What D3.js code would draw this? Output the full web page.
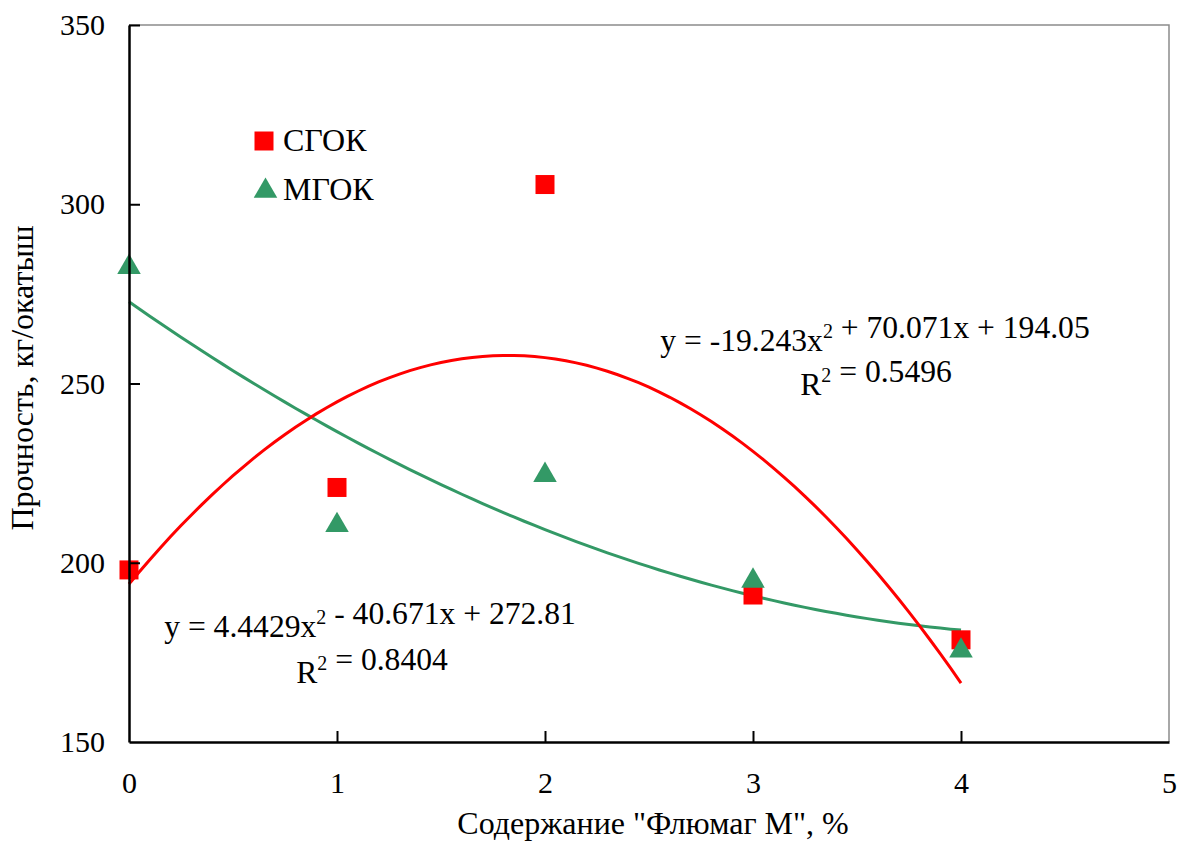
<!DOCTYPE html>
<html>
<head>
<meta charset="utf-8">
<script src="https://cdn.jsdelivr.net/npm/d3@7"></script>
</head>
<body style="margin:0">
<script>
// Data
var xValues = [0, 1, 2, 3, 4];
var sgok = [198, 221, 305.5, 191, 178.5];
var mgok = [283, 211, 225, 195.5, 176];
var xTicks = [0, 1, 2, 3, 4, 5];
var yTicks = [150, 200, 250, 300, 350];
// trendline coefficients as printed on the chart (a, b, c for a*x^2 + b*x + c)
var sgokFit = [-19.243, 70.071, 194.05];
var mgokFit = [4.4429, -40.671, 272.81];

var fontName = "Liberation Serif";
var svgWidth = 1179;
var svgHeight = 843;
var margin = {top: 25, right: 10, bottom: 101, left: 129};
var width = 1169 - margin.left;
var height = 742 - margin.top;

var svg = d3.select("body")
  .append("svg")
  .attr("width", svgWidth)
  .attr("height", svgHeight)
  .style("font-family", `"${fontName}"`);

var chart = svg.append("g")
  .attr("transform", `translate(${margin.left}, ${margin.top})`);

var x = d3.scaleLinear().domain([0, 5]).range([0, width]);
var y = d3.scaleLinear().domain([150, 350]).range([height, 0]);

// gray frame on top and right
chart.append("path")
  .attr("d", `M0,0H${width}V${height}`)
  .attr("fill", "none")
  .attr("stroke", "#8c8c8c")
  .attr("stroke-width", 1.5);

// trendlines
var fitLine = d3.line()
  .x(d => x(d[0]))
  .y(d => y(d[1]));

function samples(c) {
  var pts = [];
  for (var i = 0; i <= 80; i++) {
    var t = i / 20;
    pts.push([t, c[0] * t * t + c[1] * t + c[2]]);
  }
  return pts;
}

chart.append("path")
  .attr("d", fitLine(samples(mgokFit)))
  .attr("fill", "none")
  .attr("stroke", "#339966")
  .attr("stroke-width", 3);

chart.append("path")
  .attr("d", fitLine(samples(sgokFit)))
  .attr("fill", "none")
  .attr("stroke", "#ff0000")
  .attr("stroke-width", 3);

// markers
var square = d3.symbol().type(d3.symbolSquare).size(361);
var triangle = d3.symbol().type(d3.symbolTriangle).size(240);

chart.selectAll(".sq")
  .data(xValues)
  .enter()
  .append("path")
  .attr("class", "sq")
  .attr("d", square)
  .attr("transform", (d, i) => `translate(${x(d)}, ${y(sgok[i])})`)
  .attr("fill", "#ff0000");

chart.selectAll(".tri")
  .data(xValues)
  .enter()
  .append("path")
  .attr("class", "tri")
  .attr("d", triangle)
  .attr("transform", (d, i) => `translate(${x(d)}, ${y(mgok[i]) + 2})`)
  .attr("fill", "#339966");

// axes with inward ticks
var bottomAxis = d3.axisBottom(x).tickValues(xTicks).tickFormat(d3.format("d"))
  .tickSizeInner(-11).tickSizeOuter(0).tickPadding(30);
var leftAxis = d3.axisLeft(y).tickValues(yTicks).tickFormat(d3.format("d"))
  .tickSizeInner(-11).tickSizeOuter(0).tickPadding(24);

var gx = chart.append("g")
  .attr("transform", `translate(0, ${height})`)
  .call(bottomAxis);
var gy = chart.append("g").call(leftAxis);

[gx, gy].forEach(function(g) {
  g.attr("font-family", fontName).attr("font-size", 30);
  g.select(".domain").attr("stroke", "#000").attr("stroke-width", 2.5);
  g.selectAll(".tick line").attr("stroke", "#000").attr("stroke-width", 2);
});
gx.selectAll(".tick").filter(d => d === 0 || d === 5).select("line").remove();
gy.selectAll(".tick").filter(d => d === 150).select("line").remove();

// every text gets the font inline
function label(sel) {
  return sel.attr("font-family", fontName)
    .style("font-family", `"${fontName}"`)
    .style("font-size", "32px");
}

// legend
var legend = chart.append("g");
legend.append("path")
  .attr("d", square)
  .attr("transform", `translate(${264 - margin.left}, ${141 - margin.top})`)
  .attr("fill", "#ff0000");
legend.append("text")
  .attr("x", 283 - margin.left)
  .attr("y", 151 - margin.top)
  .call(label)
  .text("СГОК");
legend.append("path")
  .attr("d", triangle)
  .attr("transform", `translate(${265.5 - margin.left}, ${191 - margin.top})`)
  .attr("fill", "#339966");
legend.append("text")
  .attr("x", 283 - margin.left)
  .attr("y", 200 - margin.top)
  .call(label)
  .text("МГОК");

// trendline labels
function equation(cx, cyBase, parts) {
  var t = svg.append("text")
    .attr("x", cx)
    .attr("y", cyBase)
    .attr("text-anchor", "middle")
    .call(label)
    .style("font-size", "31.6px");
  parts.forEach(function(p) {
    if (p.sup) {
      t.append("tspan").attr("dy", -13).style("font-size", "20px").text(p.sup);
      t.append("tspan").attr("dy", 13).text("");
    } else {
      t.append("tspan").text(p.t);
    }
  });
}

equation(875, 351, [{t: "y = -19.243x"}, {sup: "2"}, {t: " + 70.071x + 194.05"}]);
equation(876, 395, [{t: "R"}, {sup: "2"}, {t: " = 0.5496"}]);
equation(370, 637, [{t: "y = 4.4429x"}, {sup: "2"}, {t: " - 40.671x + 272.81"}]);
equation(372, 683, [{t: "R"}, {sup: "2"}, {t: " = 0.8404"}]);

// axis titles
svg.append("text")
  .attr("transform", "translate(33, 378) rotate(-90)")
  .attr("text-anchor", "middle")
  .call(label)
  .text("Прочность, кг/окатыш");

svg.append("text")
  .attr("x", 653)
  .attr("y", 834)
  .attr("text-anchor", "middle")
  .call(label)
  .text("Содержание \"Флюмаг М\", %");
</script>
</body>
</html>
